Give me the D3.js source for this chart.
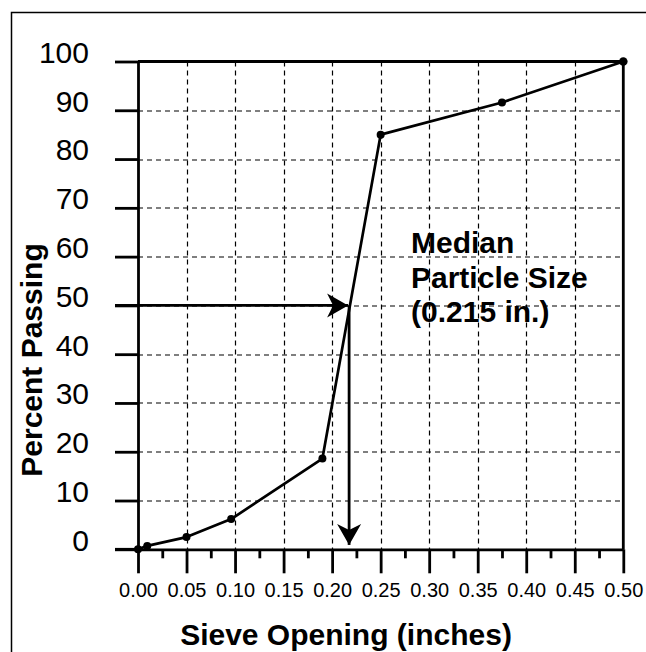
<!DOCTYPE html>
<html>
<head>
<meta charset="utf-8">
<script src="https://cdn.jsdelivr.net/npm/d3@7"></script>
<style>
  body { margin: 0; background: #fff; }
  text { font-family: "Liberation Sans", Arial, sans-serif; fill: #000; }
</style>
</head>
<body>
<div id="chart"></div>
<script>
// sieve data
var sieveOpening = [0, 0.0095, 0.05, 0.096, 0.19, 0.25, 0.375, 0.5];
var percentPassing = [0, 0.7, 2.5, 6.2, 18.6, 85, 91.6, 100];
var xTicks = [0, 0.05, 0.1, 0.15, 0.2, 0.25, 0.3, 0.35, 0.4, 0.45, 0.5];
var xMinorTicks = [0.025, 0.075, 0.125, 0.175, 0.225, 0.275, 0.325, 0.375, 0.425, 0.475];
var yTicks = [0, 10, 20, 30, 40, 50, 60, 70, 80, 90, 100];
var medianX = 0.2175;
var medianY = 50;
var arrowEndY = 0.9;
var noteLines = ["Median", "Particle Size", "(0.215 in.)"];

var svgWidth = 646;
var svgHeight = 652;
var margin = { top: 61.5, right: 22.7, bottom: 102.7, left: 138 };
var width = svgWidth - margin.left - margin.right;
var height = svgHeight - margin.top - margin.bottom;

var svg = d3.select("#chart")
    .append("svg")
    .attr("width", svgWidth)
    .attr("height", svgHeight);

// outer frame (runs off the right and bottom edge)
svg.append("rect")
    .attr("x", 11.5).attr("y", 12.5)
    .attr("width", 700).attr("height", 700)
    .attr("fill", "none")
    .attr("stroke", "#000")
    .attr("stroke-width", 1.5);

var chartGroup = svg.append("g")
    .attr("transform", `translate(${margin.left}, ${margin.top})`);

var x = d3.scaleLinear().domain([0, 0.5]).range([0, width]);
var y = d3.scaleLinear().domain([0, 100]).range([height, 0]);

// dashed grid, snapped to whole pixels so it stays crisp
chartGroup.append("g")
    .selectAll("line")
    .data(xTicks.slice(1, -1))
    .enter()
    .append("line")
    .attr("x1", d => Math.round(x(d)) + 0.5).attr("x2", d => Math.round(x(d)) + 0.5)
    .attr("y1", 0).attr("y2", height)
    .attr("stroke", "#000")
    .attr("stroke-width", 1.2)
    .attr("stroke-dasharray", "5,4");

chartGroup.append("g")
    .selectAll("line")
    .data(yTicks.slice(1, -1))
    .enter()
    .append("line")
    .attr("x1", 0).attr("x2", width)
    .attr("y1", d => Math.round(y(d)) + 0.5).attr("y2", d => Math.round(y(d)) + 0.5)
    .attr("stroke", "#000")
    .attr("stroke-width", 1.2)
    .attr("stroke-dasharray", "5,4");

// top and right border of the plot
chartGroup.append("line")
    .attr("x1", 0).attr("x2", width)
    .attr("y1", y(100)).attr("y2", y(100))
    .attr("stroke", "#000").attr("stroke-width", 2.8);
chartGroup.append("line")
    .attr("x1", x(0.5)).attr("x2", x(0.5))
    .attr("y1", 0).attr("y2", height)
    .attr("stroke", "#000").attr("stroke-width", 2.8);

// axes
var leftAxis = d3.axisLeft(y)
    .tickValues(yTicks)
    .tickSizeInner(23)
    .tickSizeOuter(0)
    .tickPadding(26);

var yAxisG = chartGroup.append("g").call(leftAxis);
yAxisG.select(".domain").attr("stroke-width", 2.8);
yAxisG.selectAll(".tick line").attr("stroke-width", 2.8);
yAxisG.selectAll(".tick text")
    .attr("dy", "0.03em")
    .style("font-size", "30px")
    .style("font-family", "'Liberation Sans', Arial, sans-serif");

var bottomAxis = d3.axisBottom(x)
    .tickValues(xTicks)
    .tickSizeInner(24)
    .tickSizeOuter(0)
    .tickPadding(10)
    .tickFormat(d3.format(".2f"));

var xAxisG = chartGroup.append("g")
    .attr("transform", `translate(0, ${height})`)
    .call(bottomAxis);
xAxisG.select(".domain").attr("stroke-width", 2.8);
xAxisG.selectAll(".tick line").attr("stroke-width", 2.8);
xAxisG.selectAll(".tick text")
    .style("font-size", "20px")
    .style("font-family", "'Liberation Sans', Arial, sans-serif");

var minorAxis = d3.axisBottom(x)
    .tickValues(xMinorTicks)
    .tickSizeInner(9)
    .tickSizeOuter(0)
    .tickFormat("");
var minorG = chartGroup.append("g")
    .attr("transform", `translate(0, ${height})`)
    .call(minorAxis);
minorG.select(".domain").remove();
minorG.selectAll(".tick line").attr("stroke-width", 2.8);

// x axis line also runs out past the y axis like the ticks
chartGroup.append("line")
    .attr("x1", -23).attr("x2", 0)
    .attr("y1", height).attr("y2", height)
    .attr("stroke", "#000").attr("stroke-width", 2.8);

// data line and points
var points = sieveOpening.map((d, i) => [d, percentPassing[i]]);

var line = d3.line()
    .x(d => x(d[0]))
    .y(d => y(d[1]));

chartGroup.append("path")
    .datum(points)
    .attr("d", line)
    .attr("fill", "none")
    .attr("stroke", "#000")
    .attr("stroke-width", 2.7)
    .attr("stroke-linejoin", "round");

chartGroup.selectAll("circle")
    .data(points)
    .enter()
    .append("circle")
    .attr("cx", d => x(d[0]))
    .attr("cy", d => y(d[1]))
    .attr("r", (d, i) => i == points.length - 1 ? 4.3 : 4)
    .attr("fill", "#000");

// median arrows
var defs = svg.append("defs");
defs.append("marker")
    .attr("id", "arrow")
    .attr("markerUnits", "userSpaceOnUse")
    .attr("viewBox", "-22 -13 24 26")
    .attr("refX", 0).attr("refY", 0)
    .attr("markerWidth", 24).attr("markerHeight", 26)
    .attr("orient", "auto")
    .append("path")
    .attr("d", "M0,0 L-21,-12 L-15,0 L-21,12 Z")
    .attr("fill", "#000");

chartGroup.append("line")
    .attr("x1", -23).attr("x2", x(medianX) - 1)
    .attr("y1", y(medianY)).attr("y2", y(medianY))
    .attr("stroke", "#000").attr("stroke-width", 2.8)
    .attr("marker-end", "url(#arrow)");

chartGroup.append("line")
    .attr("x1", x(medianX)).attr("x2", x(medianX))
    .attr("y1", y(medianY)).attr("y2", y(arrowEndY))
    .attr("stroke", "#000").attr("stroke-width", 2.8)
    .attr("marker-end", "url(#arrow)");

// annotation
chartGroup.append("g")
    .selectAll("text")
    .data(noteLines)
    .enter()
    .append("text")
    .attr("x", 273)
    .attr("y", (d, i) => 191.5 + i * 34.5)
    .style("font-size", "30px")
    .style("font-weight", "bold")
    .text(d => d);

// axis titles
svg.append("text")
    .attr("x", 346)
    .attr("y", 645)
    .attr("text-anchor", "middle")
    .style("font-size", "30px")
    .style("font-weight", "bold")
    .text("Sieve Opening (inches)");

svg.append("text")
    .attr("transform", "translate(42, 360) rotate(-90)")
    .attr("text-anchor", "middle")
    .style("font-size", "30px")
    .style("font-weight", "bold")
    .text("Percent Passing");
</script>
</body>
</html>
